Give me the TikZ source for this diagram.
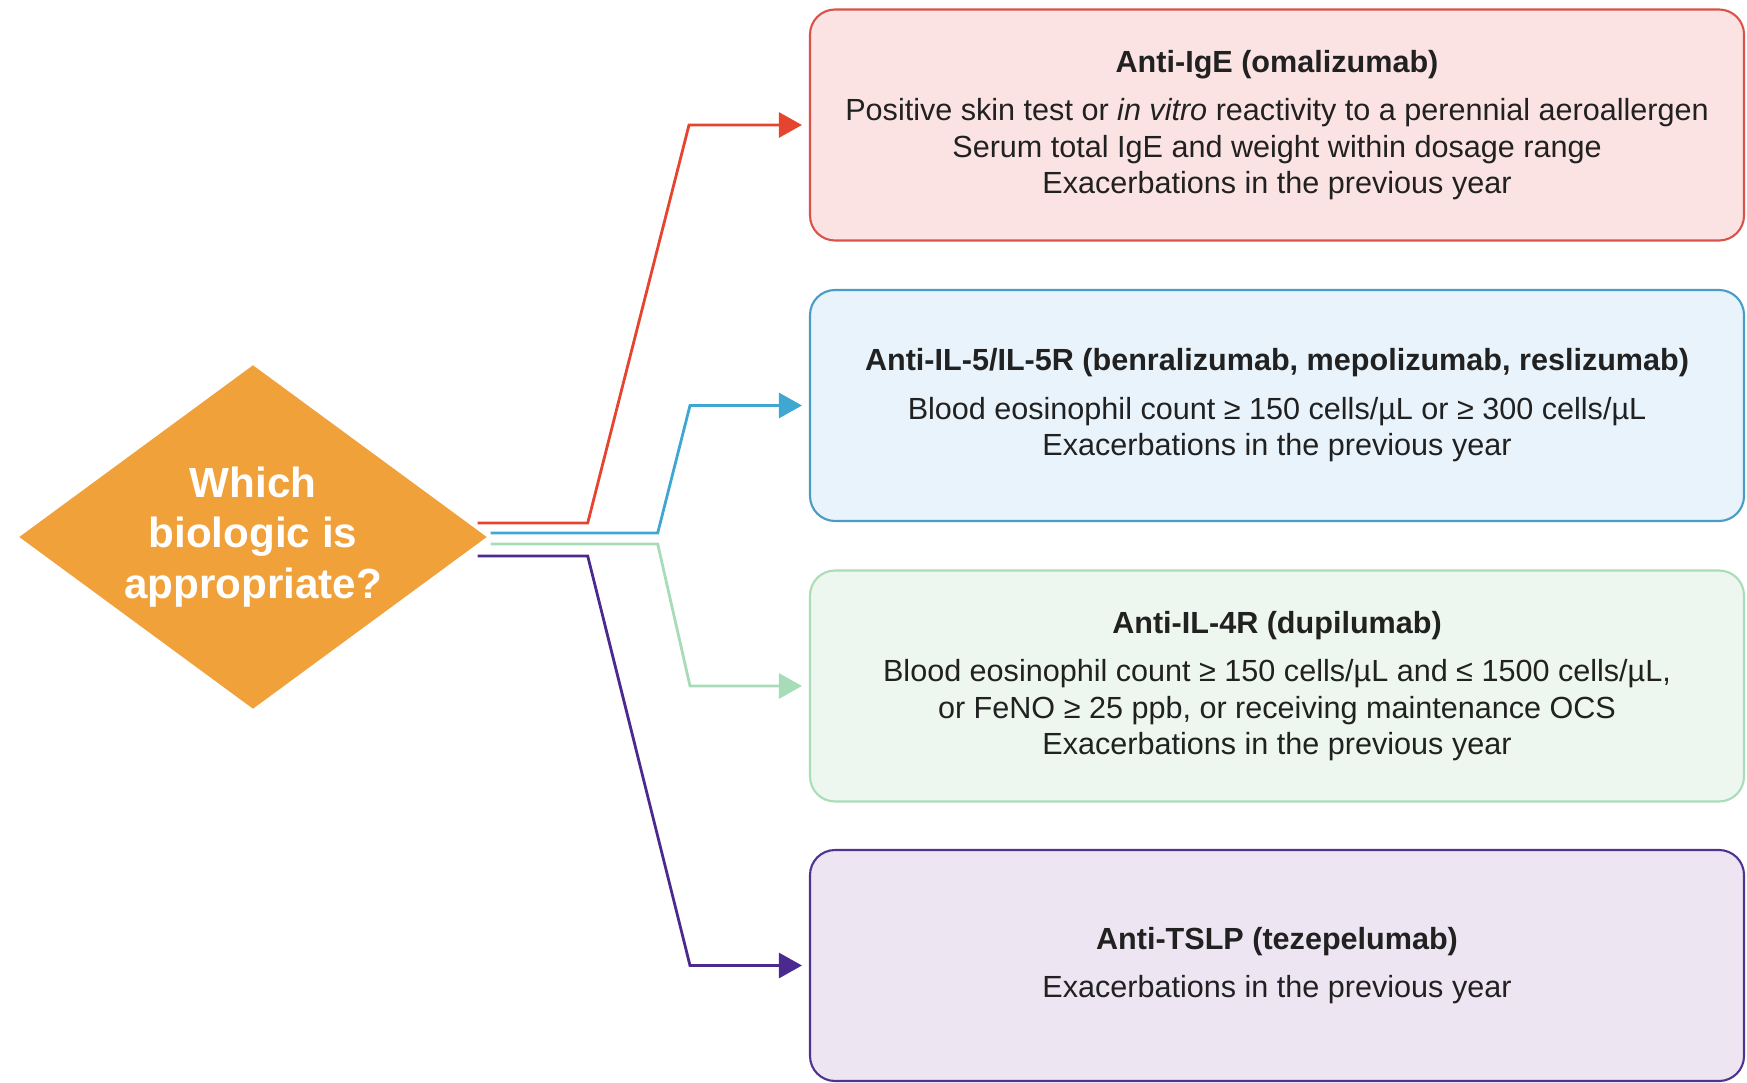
\documentclass[tikz,border=0pt]{standalone}
\usepackage{fontspec}
\setmainfont{Liberation Sans}
\usepackage{xcolor}
\usepackage{tikz}
\usetikzlibrary{arrows.meta,shapes.geometric}

\definecolor{qorange}{HTML}{F0A13A}
\definecolor{igeline}{HTML}{E5452F}
\definecolor{igedraw}{HTML}{D9534A}
\definecolor{igefill}{HTML}{FBE3E3}
\definecolor{ilfiveline}{HTML}{3FA7D2}
\definecolor{ilfivedraw}{HTML}{4A9CC4}
\definecolor{ilfivefill}{HTML}{E8F3FB}
\definecolor{ilfourline}{HTML}{A6DDB8}
\definecolor{ilfourdraw}{HTML}{A9DDB8}
\definecolor{ilfourfill}{HTML}{EEF7EF}
\definecolor{tslpline}{HTML}{4A2A8E}
\definecolor{tslpdraw}{HTML}{4F3390}
\definecolor{tslpfill}{HTML}{EEE5F2}

\begin{document}
\begin{tikzpicture}[>={Triangle[length=2.3mm,width=2.5mm]},
 font=\fontsize{8.7}{10.4}\selectfont,
 crit/.style={rounded corners=2.5mm,align=center,minimum width=9.34cm,minimum height=2.31cm,line width=0.6pt,text=black!87},
 link/.style={->,line width=0.8pt,shorten >=0.7mm}]
\useasboundingbox (0,0) rectangle (17.47,-10.83);
\node[diamond,fill=qorange,minimum width=4.68cm,minimum height=3.44cm,aspect=1.36,inner sep=0pt,align=center,text=white,font=\fontsize{12}{14.4}\selectfont\bfseries] (q) at (2.53,-5.37) {Which\\biologic is\\appropriate?};
\node[crit,draw=igedraw,fill=igefill] (ige) at (12.77,-1.25) {\textbf{Anti-IgE (omalizumab)}\\[3.4pt]Positive skin test or \textit{in vitro} reactivity to a perennial aeroallergen\\Serum total IgE and weight within dosage range\\Exacerbations in the previous year};
\node[crit,draw=ilfivedraw,fill=ilfivefill] (il5) at (12.77,-4.055) {\textbf{Anti-IL-5/IL-5R (benralizumab, mepolizumab, reslizumab)}\\[3.4pt]Blood eosinophil count ≥ 150 cells/µL or ≥ 300 cells/µL\\Exacerbations in the previous year};
\node[crit,draw=ilfourdraw,fill=ilfourfill] (il4) at (12.77,-6.86) {\textbf{Anti-IL-4R (dupilumab)}\\[3.4pt]Blood eosinophil count ≥ 150 cells/µL and ≤ 1500 cells/µL,\\or FeNO ≥ 25 ppb, or receiving maintenance OCS\\Exacerbations in the previous year};
\node[crit,draw=tslpdraw,fill=tslpfill] (tslp) at (12.77,-9.655) {\textbf{Anti-TSLP (tezepelumab)}\\[3.4pt]Exacerbations in the previous year};
\draw[link,igeline] ([shift={(-0.10,0.14)}]q.east) -- ++(1.10,0) -- (6.89,0 |- ige.west) -- (ige.west);
\draw[link,ilfiveline] ([shift={(0.03,0.04)}]q.east) -- ++(1.67,0) -- (6.90,0 |- il5.west) -- (il5.west);
\draw[link,ilfourline] ([shift={(0.03,-0.07)}]q.east) -- ++(1.67,0) -- (6.90,0 |- il4.west) -- (il4.west);
\draw[link,tslpline] ([shift={(-0.10,-0.19)}]q.east) -- ++(1.10,0) -- (6.90,0 |- tslp.west) -- (tslp.west);
\end{tikzpicture}
\end{document}
